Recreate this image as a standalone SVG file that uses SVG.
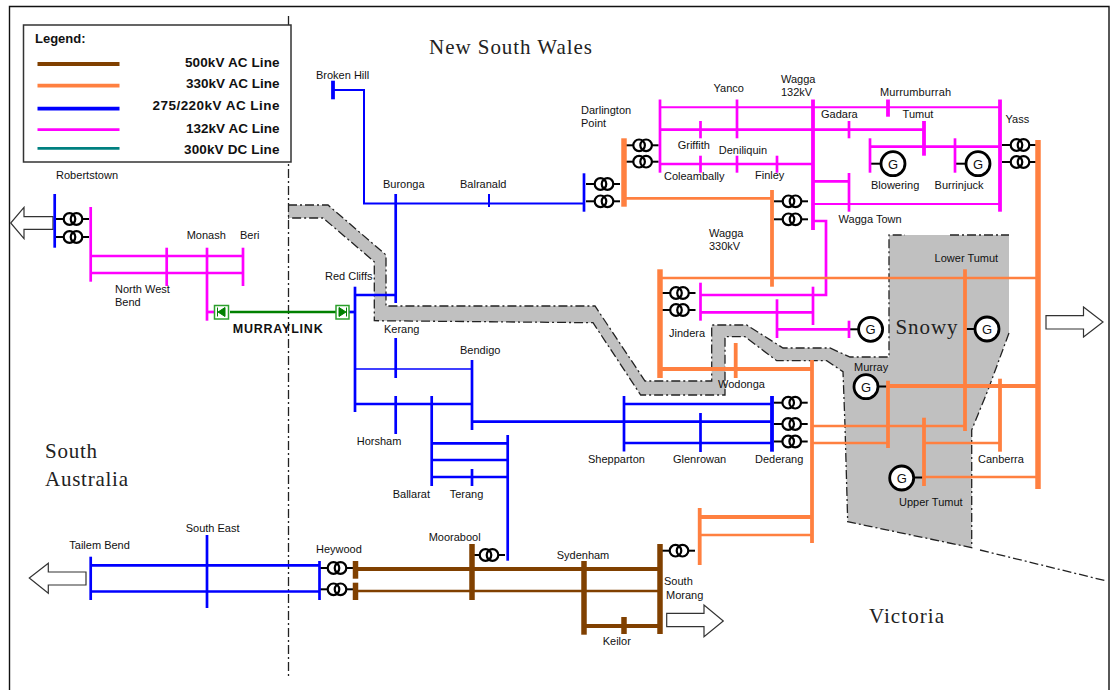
<svg xmlns="http://www.w3.org/2000/svg" width="1111" height="690" viewBox="0 0 1111 690">
<style>
text{font-family:"Liberation Sans",Arial,sans-serif;font-size:11px;fill:#111}
.st{font-family:"Liberation Serif","Times New Roman",serif;font-size:21px;fill:#222}
.bd{font-weight:bold;font-size:12.5px}
.lg{font-weight:bold;font-size:13.5px}
line,polyline{fill:none}
.b500{stroke:#804000}
.b330{stroke:#ff8040}
.b275{stroke:#0000ff}
.b132{stroke:#ff00ff}
.dc{stroke:#008000}
.tl{stroke:#008080}
.w1{stroke-width:1.5}
.w2{stroke-width:2}
.w3{stroke-width:2.7}
.w4{stroke-width:3.8}
.w5{stroke-width:5.5}
.bdr{stroke:#222;stroke-width:1.3;stroke-dasharray:9 3 2 3;fill:none}
.arr{fill:#fff;stroke:#333;stroke-width:1.2}
.g{fill:#fff;stroke:#000;stroke-width:2.8}
.gt{font-size:13px;text-anchor:middle}
.bx{fill:#fff;stroke:#2ca02c;stroke-width:1.5}
.s{stroke:#000;stroke-width:2}
</style>
<defs>
<g id="brk">
<line class="s" x1="-18" x2="-9" y1="0" y2="0"/>
<line class="s" x1="9" x2="16" y1="0" y2="0"/>
<circle cx="-3.5" r="5.8" fill="none" stroke="#000" stroke-width="2.2"/>
<circle cx="3.5" r="5.8" fill="none" stroke="#000" stroke-width="2.2"/>
</g>
</defs>
<rect width="1111" height="690" fill="#fff"/>
<g id="frame" fill="none">
<path d="M9.5 690V6.5H1109V690" stroke="#111" stroke-width="1.4" fill="none"/>
</g>
<g id="regions">
<path fill="#c0c0c0" d="M288 205H328L386 255V306H595L645 381H711.7V325H746.7L783 348H830L850 357H889V235H1009V333L988 390 971.7 430V547.7L847.7 521.7 845 426 843 371.7 826.7 360.7H776.7L745 336.7H725V395H640.7L593 322.7 374.3 320.7V261.7L323 218H288Z"/>
<path class="bdr" d="M288 205H328L386 255V306H595L645 381H711.7V325H746.7L783 348H830L850 357H889V235H905M950 235H1009M1009 333L988 390 971.7 430V547.7L847.7 521.7 845 426 843 371.7 826.7 360.7H776.7L745 336.7H725V395H640.7L593 322.7 374.3 320.7V261.7L323 218H288"/>
<path class="bdr" d="M288.5 16V676"/>
<path class="bdr" d="M980 550L1106.7 581"/>
</g>
<g id="legend">
<rect x="23.5" y="25" width="267.5" height="137" fill="#fff" stroke="#333" stroke-width="1.5"/>
<text x="35" y="43" class="bd" style="font-size:13px">Legend:</text>
<line x1="37.5" x2="119.5" y1="64" y2="64" class="b500 w4"/>
<line x1="37.5" x2="119.5" y1="85.7" y2="85.7" class="b330 w4"/>
<line x1="37.5" x2="119.5" y1="108.7" y2="108.7" class="b275 w4"/>
<line x1="37.5" x2="119.5" y1="129.7" y2="129.7" class="b132 w3"/>
<line x1="37.5" x2="119.5" y1="148.3" y2="148.3" class="tl w3"/>
<text x="185" y="66.5" class="lg" textLength="94.500">500kV AC Line</text>
<text x="186" y="88" class="lg" textLength="93.500">330kV AC Line</text>
<text x="152.500" y="110" class="lg" textLength="127">275/220kV AC Line</text>
<text x="186" y="132.500" class="lg" textLength="93.500">132kV AC Line</text>
<text x="184" y="154" class="lg" textLength="95.500">300kV DC Line</text>
</g>
<g id="state-labels">
<text class="st" x="429" y="54" textLength="163">New South Wales</text>
<text class="st" x="45" y="458" textLength="52">South</text>
<text class="st" x="45" y="486" textLength="83">Australia</text>
<text class="st" x="869" y="622.5" textLength="75">Victoria</text>
<text class="st" x="895.5" y="334" textLength="62">Snowy</text>
</g>
<g id="connectors">
<g class="b132">
<line class="w2" x1="660" x2="1000" y1="107.3" y2="107.3"/>
<line class="w3" x1="660" x2="924" y1="129.7" y2="129.7"/>
<line class="w3" x1="870" x2="1000" y1="146.7" y2="146.7"/>
<line class="w3" x1="660" x2="813" y1="164" y2="164"/>
<line class="w3" x1="813" x2="849" y1="181.3" y2="181.3"/>
<line class="w2" x1="813" x2="1000" y1="204" y2="204"/>
<polyline class="w3" points="813,221 826,221 826,295 700.5,295"/>
<line class="w3" x1="700.5" x2="813" y1="312.3" y2="312.3"/>
<line class="w3" x1="777" x2="849" y1="329.3" y2="329.3"/>
<line class="w3" x1="90.7" x2="243" y1="256" y2="256"/>
<line class="w3" x1="90.7" x2="243" y1="273" y2="273"/>
<polyline class="w3" points="207,312 214,312"/>
</g>
<g class="b275">
<polyline class="w2" points="333,90 364,90 364,203.5 584,203.5"/>
<line class="w3" x1="355" x2="395.7" y1="295" y2="295"/>
<line class="w1" x1="355" x2="472" y1="369" y2="369"/>
<line class="w3" x1="355" x2="472" y1="404" y2="404"/>
<line class="w3" x1="472" x2="772" y1="421.7" y2="421.7"/>
<line class="w3" x1="624" x2="772" y1="404" y2="404"/>
<line class="w3" x1="624" x2="772" y1="443" y2="443"/>
<line class="w3" x1="431.7" x2="507.7" y1="443.3" y2="443.3"/>
<line class="w3" x1="431.7" x2="507.7" y1="460" y2="460"/>
<line class="w3" x1="431.7" x2="507.7" y1="477" y2="477"/>
<line class="w3" x1="90.7" x2="319.5" y1="565.3" y2="565.3"/>
<line class="w3" x1="90.7" x2="319.5" y1="591.5" y2="591.5"/>
<line class="w3" x1="349" x2="355" y1="312" y2="312"/>
</g>
<g class="b330">
<line class="w3" x1="624" x2="772" y1="198.3" y2="198.3"/>
<line class="w3" x1="660" x2="1038" y1="278" y2="278"/>
<line class="w4" x1="660" x2="812" y1="369" y2="369"/>
<line class="w3" x1="812" x2="965" y1="426" y2="426"/>
<line class="w3" x1="812" x2="888" y1="443" y2="443"/>
<line class="w4" x1="888" x2="1038" y1="386" y2="386"/>
<line class="w3" x1="924" x2="1000" y1="443" y2="443"/>
<line class="w3" x1="924" x2="1038" y1="477" y2="477"/>
<line class="w4" x1="700" x2="812" y1="517" y2="517"/>
<line class="w3" x1="700" x2="812" y1="535" y2="535"/>
</g>
<g class="b500">
<line class="w4" x1="355" x2="660" y1="569" y2="569"/>
<line class="w3" x1="355" x2="660" y1="591" y2="591"/>
<line class="w4" x1="584" x2="660" y1="626" y2="626"/>
</g>
<line class="dc w3" x1="230" x2="336" y1="312" y2="312"/>
</g>
<g id="arrows">
<polygon class="arr" points="53,216.7 24,216.7 24,207.3 10.7,223 24,238.7 24,229.3 53,229.3"/>
<polygon class="arr" points="86,572 48.3,572 48.3,563.3 29.3,578 48.3,593.3 48.3,585 86,585"/>
<polygon class="arr" points="666.7,613.3 704,613.3 704,605 723.3,621 704,636.7 704,626.7 666.7,626.7"/>
<polygon class="arr" points="1046,315.7 1083.5,315.7 1083.5,307 1103,322 1083.5,337 1083.5,329 1046,329"/>
</g>
<g id="nodes">
<g id="robertstown"><use href="#brk" x="73" y="219"/><use href="#brk" x="73" y="237"/><line class="s" x1="89" x2="82" y1="219" y2="219"/><line class="s" x1="89" x2="82" y1="237" y2="237"/><line class="b275 w3" x1="54.7" x2="54.7" y1="194" y2="247.7"/><line class="b132 w3" x1="90.7" x2="90.7" y1="207" y2="281.7"/><text x="56" y="179" textLength="62">Robertstown</text></g>
<g id="north-west-bend"><line class="b132 w3" x1="166.7" x2="166.7" y1="247.7" y2="286"/><text x="115" y="293.3">North West</text><text x="115" y="306">Bend</text></g>
<g id="monash"><line class="b132 w3" x1="207" x2="207" y1="247.7" y2="320.7"/><text x="186.7" y="239.3">Monash</text></g>
<g id="berri"><line class="b132 w3" x1="243" x2="243" y1="247.7" y2="286"/><text x="240" y="239.3">Beri</text></g>
<g id="murraylink"><rect class="bx" x="214.5" y="305.5" width="14" height="13.5"/><path d="M218 312l7-4.5v9zM217.5 307.5v9" fill="#008000" stroke="#008000"/><rect class="bx" x="336" y="305.5" width="13" height="13.5"/><path d="M346 312l-7-4.5v9zM346.5 307.5v9" fill="#008000" stroke="#008000"/><text class="bd" x="232.7" y="333.3" textLength="90">MURRAYLINK</text></g>
<g id="broken-hill"><line class="b275 w4" x1="333" x2="333" y1="80.7" y2="99.3"/><text x="316" y="79.3">Broken Hill</text></g>
<g id="buronga"><line class="b275 w3" x1="395.7" x2="395.7" y1="194" y2="303"/><text x="383" y="188">Buronga</text></g>
<g id="balranald"><line class="b275 w2" x1="489" x2="489" y1="194" y2="207"/><text x="460" y="188">Balranald</text></g>
<g id="red-cliffs"><line class="b275 w3" x1="355" x2="355" y1="286.7" y2="412"/><text x="325" y="280">Red Cliffs</text></g>
<g id="kerang"><line class="b275 w3" x1="395.7" x2="395.7" y1="338" y2="378"/><text x="384" y="332.7">Kerang</text></g>
<g id="bendigo"><line class="b275 w3" x1="472" x2="472" y1="360" y2="430"/><text x="460" y="354">Bendigo</text></g>
<g id="horsham"><line class="b275 w3" x1="395.7" x2="395.7" y1="396" y2="434"/><text x="356.7" y="445">Horsham</text></g>
<g id="ballarat"><line class="b275 w3" x1="431.7" x2="431.7" y1="396" y2="486"/><text x="392.7" y="497.7">Ballarat</text></g>
<g id="terang"><line class="b275 w3" x1="472" x2="472" y1="469" y2="486"/><text x="449.7" y="497.7">Terang</text></g>
<g id="moorabool-feed"><line class="b275 w3" x1="507.7" x2="507.7" y1="435" y2="560.7"/></g>
<g id="shepparton"><line class="b275 w3" x1="624" x2="624" y1="396" y2="451.5"/><text x="588" y="463">Shepparton</text></g>
<g id="glenrowan"><line class="b275 w3" x1="700.5" x2="700.5" y1="413" y2="452"/><text x="673" y="463">Glenrowan</text></g>
<g id="dederang"><use href="#brk" x="791.7" y="402.7"/><use href="#brk" x="791.7" y="424"/><use href="#brk" x="791.7" y="441.5"/><line class="b275 w4" x1="772" x2="772" y1="396" y2="451.7"/><line class="b330 w4" x1="812" x2="812" y1="360" y2="543"/><text x="755" y="463">Dederang</text></g>
<g id="tailem-bend"><line class="b275 w3" x1="90.7" x2="90.7" y1="556.7" y2="600"/><text x="69.3" y="549">Tailem Bend</text></g>
<g id="south-east"><line class="b275 w3" x1="207" x2="207" y1="535" y2="608"/><text x="185.7" y="531.7">South East</text></g>
<g id="heywood"><use href="#brk" x="337" y="568"/><use href="#brk" x="337" y="589.3"/><line class="b275 w3" x1="319.5" x2="319.5" y1="561" y2="600"/><line class="b500 w5" x1="355.5" x2="355.5" y1="561" y2="578.7"/><line class="b500 w5" x1="355.5" x2="355.5" y1="582.7" y2="600"/><text x="316" y="553">Heywood</text></g>
<g id="moorabool"><use href="#brk" x="489" y="555"/><line class="b500 w5" x1="472" x2="472" y1="544" y2="600"/><text x="428.7" y="540.7">Moorabool</text></g>
<g id="sydenham"><line class="b500 w5" x1="584" x2="584" y1="561" y2="634.7"/><text x="556.7" y="559">Sydenham</text></g>
<g id="keilor"><line class="b500 w5" x1="624" x2="624" y1="617" y2="634"/><text x="602.7" y="645">Keilor</text></g>
<g id="south-morang"><use href="#brk" x="679" y="550.7"/><line class="b500 w5" x1="660" x2="660" y1="544" y2="634"/><line class="b330 w4" x1="699.7" x2="699.7" y1="508" y2="565"/><text x="664" y="585">South</text><text x="666" y="598.7">Morang</text></g>
<g id="darlington-point"><use href="#brk" x="604" y="184"/><use href="#brk" x="604" y="201.3"/><use href="#brk" x="642.6" y="145.3"/><use href="#brk" x="642.6" y="161.7"/><line class="b275 w3" x1="584" x2="584" y1="173.3" y2="211.7"/><line class="b330 w5" x1="624" x2="624" y1="138.3" y2="206.7"/><line class="b132 w3" x1="660" x2="660" y1="99.5" y2="172.7"/><text x="581" y="114">Darlington</text><text x="581" y="127">Point</text></g>
<g id="yanco"><line class="b132 w3" x1="737" x2="737" y1="99.5" y2="138.3"/><text x="713.5" y="92">Yanco</text></g>
<g id="griffith"><line class="b132 w3" x1="700.5" x2="700.5" y1="121" y2="138.3"/><text x="677.7" y="149">Griffith</text></g>
<g id="deniliquin"><line class="b132 w3" x1="737" x2="737" y1="155.7" y2="172.7"/><text x="718.8" y="154">Deniliquin</text></g>
<g id="coleambally"><line class="b132 w3" x1="700.5" x2="700.5" y1="155.7" y2="172.7"/><text x="664" y="180">Coleambally</text></g>
<g id="finley"><line class="b132 w3" x1="777" x2="777" y1="155.7" y2="172.7"/><text x="755" y="179">Finley</text></g>
<g id="wagga-132"><line class="b132 w4" x1="813" x2="813" y1="99.5" y2="230"/><text x="781" y="83.3">Wagga</text><text x="781" y="96">132kV</text></g>
<g id="gadara"><line class="b132 w3" x1="849" x2="849" y1="121" y2="138.3"/><text x="821" y="118">Gadara</text></g>
<g id="murrumburrah"><line class="b132 w4" x1="888" x2="888" y1="99.5" y2="116.7"/><text x="880" y="95.7" textLength="71">Murrumburrah</text></g>
<g id="tumut"><line class="b132 w4" x1="924" x2="924" y1="121" y2="155.7"/><text x="902.6" y="118">Tumut</text></g>
<g id="yass"><use href="#brk" x="1020" y="145"/><use href="#brk" x="1020" y="162"/><line class="b132 w4" x1="1000" x2="1000" y1="99.5" y2="211.7"/><line class="b330 w5" x1="1038" x2="1038" y1="140" y2="489"/><text x="1005.5" y="122.7">Yass</text></g>
<g id="blowering"><line class="s" x1="870" x2="881" y1="163.7" y2="163.7"/><line class="b132 w3" x1="870" x2="870" y1="138.3" y2="172.7"/><circle class="g" cx="893" cy="163.7" r="12"/><text class="gt" x="893" y="168.5">G</text><text x="871" y="188.7">Blowering</text></g>
<g id="burrinjuck"><line class="s" x1="955" x2="966" y1="163.7" y2="163.7"/><line class="b132 w3" x1="955" x2="955" y1="138.3" y2="172.7"/><circle class="g" cx="978" cy="163.7" r="12"/><text class="gt" x="978" y="168.5">G</text><text x="934.6" y="188.7">Burrinjuck</text></g>
<g id="wagga-town"><line class="b132 w3" x1="849" x2="849" y1="173" y2="211.7"/><text x="838.6" y="223">Wagga Town</text></g>
<g id="wagga-330"><use href="#brk" x="792" y="201.3"/><use href="#brk" x="792" y="219.3"/><line class="b330 w4" x1="772" x2="772" y1="190" y2="286.7"/><text x="709" y="236.7">Wagga</text><text x="709" y="250">330kV</text></g>
<g id="jindera"><use href="#brk" x="679.5" y="293"/><use href="#brk" x="679.5" y="310"/><line class="b330 w5" x1="660" x2="660" y1="269.3" y2="378"/><line class="b132 w3" x1="700.5" x2="700.5" y1="282.7" y2="320.7"/><line class="b132 w3" x1="813" x2="813" y1="286.7" y2="325"/><text x="669" y="336.7">Jindera</text></g>
<g id="jindera-g"><line class="s" x1="849" x2="860" y1="329.3" y2="329.3"/><line class="b132 w3" x1="777" x2="777" y1="299.3" y2="338"/><line class="b132 w3" x1="849" x2="849" y1="320.7" y2="338"/><circle class="g" cx="870.6" cy="329.3" r="12"/><text class="gt" x="870.6" y="334">G</text></g>
<g id="lower-tumut"><line class="s" x1="965" x2="976" y1="329" y2="329"/><line class="b330 w4" x1="965" x2="965" y1="269.3" y2="431"/><circle class="g" cx="987" cy="329" r="12"/><text class="gt" x="987" y="334">G</text><text x="934.6" y="262">Lower Tumut</text></g>
<g id="wodonga"><line class="b330 w4" x1="735.7" x2="735.7" y1="343" y2="378"/><text x="718" y="387.7">Wodonga</text></g>
<g id="murray"><line class="s" x1="878" x2="888" y1="386.5" y2="386.5"/><line class="b330 w4" x1="888" x2="888" y1="380.7" y2="448"/><circle class="g" cx="866" cy="386.7" r="12"/><text class="gt" x="866" y="391.5">G</text><text x="854" y="371">Murray</text></g>
<g id="canberra"><line class="b330 w4" x1="1000" x2="1000" y1="378.7" y2="451.7"/><text x="978" y="463">Canberra</text></g>
<g id="upper-tumut"><line class="s" x1="913" x2="924" y1="477.5" y2="477.5"/><line class="b330 w4" x1="924" x2="924" y1="417.7" y2="486"/><circle class="g" cx="901.7" cy="478" r="12"/><text class="gt" x="901.7" y="482.5">G</text><text x="899" y="506">Upper Tumut</text></g>
</g>
</svg>
